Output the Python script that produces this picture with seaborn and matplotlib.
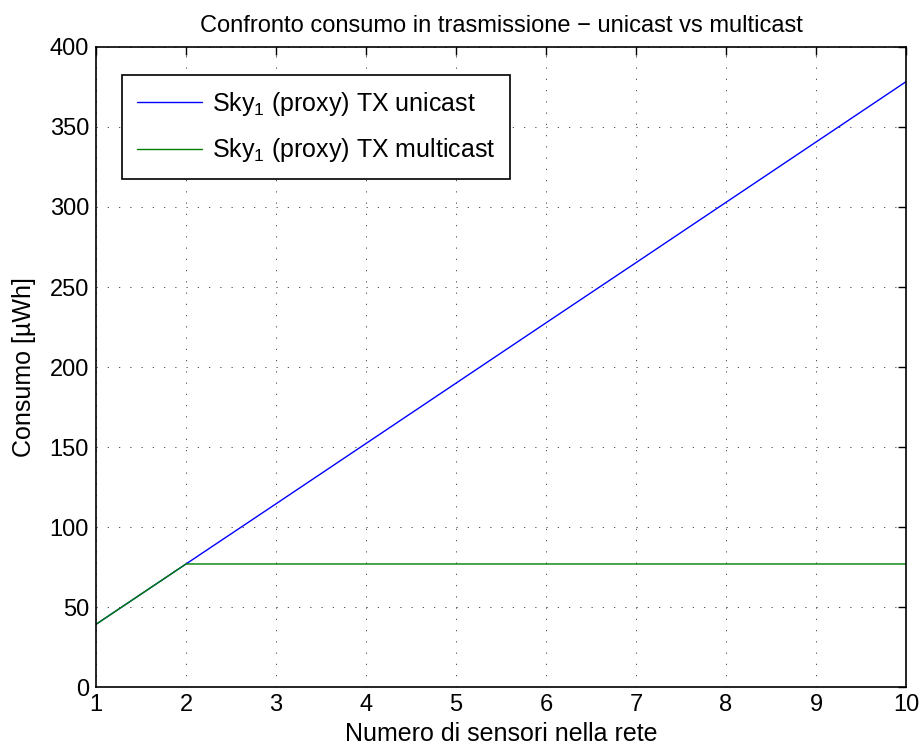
import matplotlib
matplotlib.use("Agg")
import matplotlib.pyplot as plt
import seaborn as sns
import pandas as pd

# Network size (number of sensors) and transmit energy per configuration
sensori = [1, 2, 3, 4, 5, 6, 7, 8, 9, 10]
unicast = [39.2, 76.9, 114.5, 152.2, 189.9, 227.6, 265.2, 302.9, 340.6, 378.3]
multicast = [39.2, 76.9, 76.9, 76.9, 76.9, 76.9, 76.9, 76.9, 76.9, 76.9]

etichette = ["Sky$_\\mathregular{1}$ (proxy) TX unicast",
             "Sky$_\\mathregular{1}$ (proxy) TX multicast"]
colori = ["#0000ff", "#008000"]
xticks = list(range(1, 11))
yticks = list(range(0, 401, 50))

sns.set_theme(style="white")
plt.rcParams["font.family"] = ["Liberation Sans", "DejaVu Sans"]
plt.rcParams["mathtext.fontset"] = "custom"
plt.rcParams["mathtext.rm"] = "Liberation Sans"
plt.rcParams["mathtext.it"] = "Liberation Sans:italic"
plt.rcParams["text.color"] = "black"
plt.rcParams["axes.labelcolor"] = "black"

df = pd.DataFrame({
    "sensori": sensori * 2,
    "consumo": unicast + multicast,
    "serie": [etichette[0]] * len(sensori) + [etichette[1]] * len(sensori),
})

fig = plt.figure(figsize=(9.24, 7.53), dpi=100)
ax = fig.add_axes([0.1039, 0.0876, 0.8766, 0.8500])

sns.lineplot(data=df, x="sensori", y="consumo", hue="serie",
             palette=dict(zip(etichette, colori)), linewidth=1.0, ax=ax)

ax.set_xlim(1, 10)
ax.set_ylim(0, 400)
ax.set_xticks(xticks)
ax.set_yticks(yticks)
ax.tick_params(axis="both", which="both", direction="in", length=6, width=1,
               top=True, right=True, labelsize=17, colors="black", pad=5)
for s in ax.spines.values():
    s.set_visible(True)
    s.set_color("black")
    s.set_linewidth(1.2)

ax.grid(True, color="black", linestyle=(0, (1.5, 12)), linewidth=0.6, alpha=0.8)
ax.set_axisbelow(True)

ax.set_xlabel("Numero di sensori nella rete", fontsize=18, labelpad=4)
ax.set_ylabel("Consumo [µWh]", fontsize=18, labelpad=10)
ax.set_title("Confronto consumo in trasmissione \u2212 unicast vs multicast",
             fontsize=17, pad=11)

leg = ax.legend(loc="upper left", bbox_to_anchor=(0.032, 0.957), fontsize=18,
                frameon=True, fancybox=False, edgecolor="black",
                handlelength=2.6, handletextpad=0.4, borderpad=0.6,
                labelspacing=0.75, borderaxespad=0)
leg.get_frame().set_linewidth(1.2)
leg.get_frame().set_alpha(1)
for t in leg.get_texts():
    t.set_color("black")

fig.savefig("out.png", dpi=100, facecolor="white")
